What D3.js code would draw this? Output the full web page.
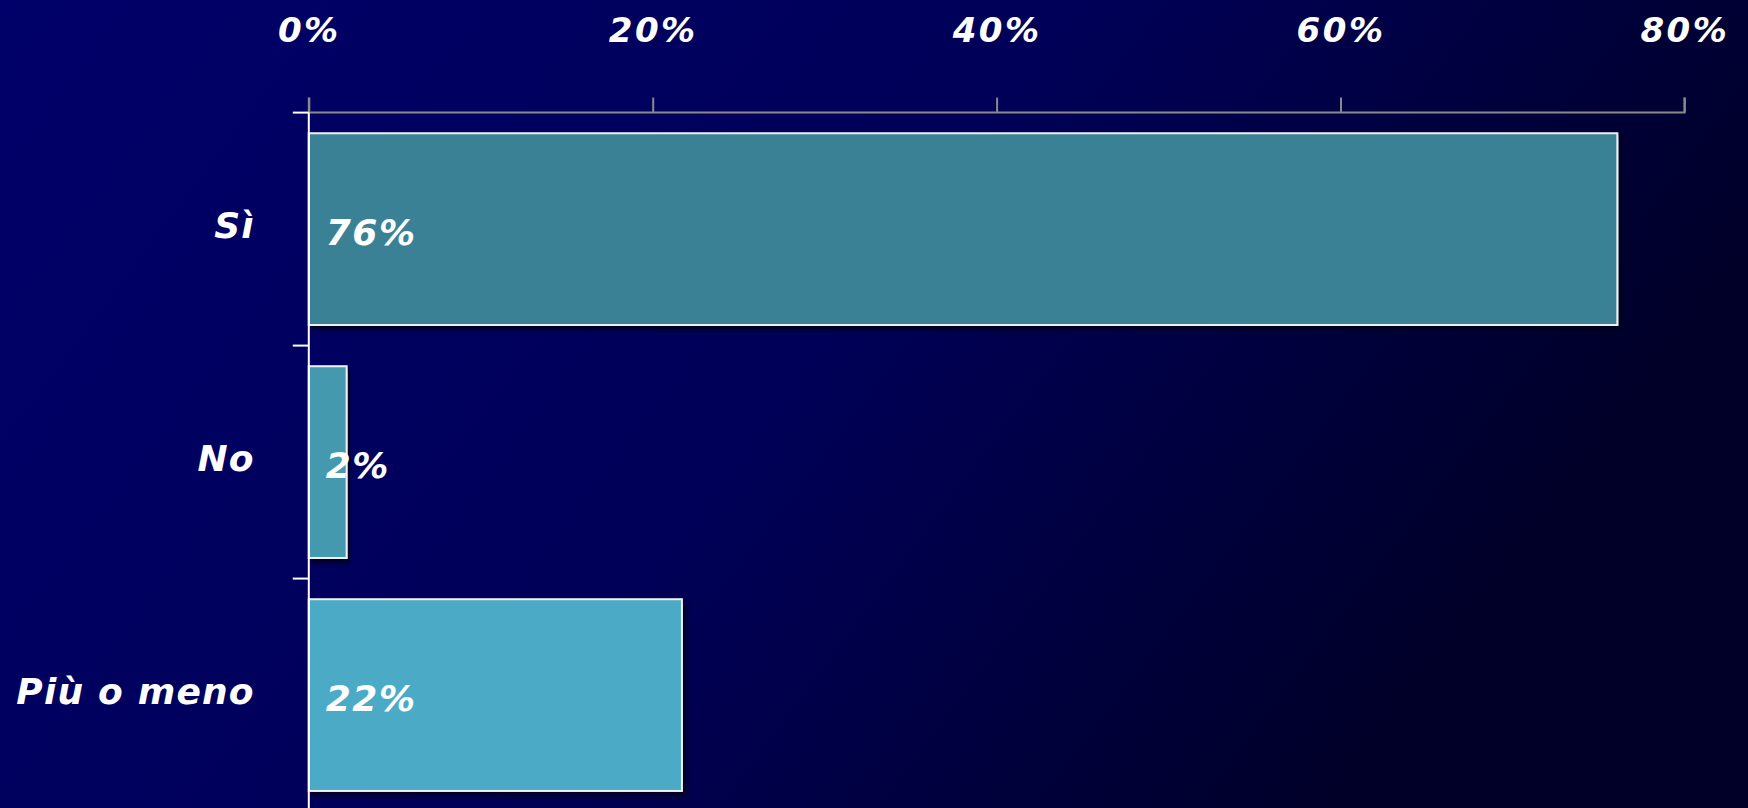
<!DOCTYPE html>
<html><head><meta charset="utf-8">
<script src="https://cdn.jsdelivr.net/npm/d3@7"></script>
<style>
html,body{margin:0;padding:0;background:#000060;overflow:hidden}
text{font-family:"DejaVu Sans",sans-serif;font-style:oblique;font-weight:700;fill:#fff;letter-spacing:2.5px}
</style></head><body>
<script>
const categories = ["Sì", "No", "Più o meno"];
const values = [76.1, 2.2, 21.7];
const valueLabels = ["76%", "2%", "22%"];
const barColors = ["#3A8196", "#4599AF", "#4CABC6"];
const xTicks = [0, 20, 40, 60, 80];

const W = 1748, H = 808;
const svg = d3.select("body").append("svg").attr("width", W).attr("height", H);
const defs = svg.append("defs");
const grad = defs.append("linearGradient").attr("id","bg").attr("x1","0").attr("y1","0").attr("x2","1").attr("y2","0.35");
grad.append("stop").attr("offset","0").attr("stop-color","#00006A");
grad.append("stop").attr("offset","0.55").attr("stop-color","#000058");
grad.append("stop").attr("offset","1").attr("stop-color","#000028");
svg.append("rect").attr("width",W).attr("height",H).attr("fill","url(#bg)");
const f = defs.append("filter").attr("id","sh").attr("x","-5%").attr("y","-5%").attr("width","115%").attr("height","120%");
f.append("feDropShadow").attr("dx",3).attr("dy",4).attr("stdDeviation",2).attr("flood-color","#000018").attr("flood-opacity",0.8);

const x0 = 308.8, axisY = 112.6;
const x = d3.scaleLinear().domain([0, 80]).range([x0, 1684.4]);
const y = d3.scaleBand().domain(categories).range([axisY, axisY + 699]).paddingInner(0.177).paddingOuter(0.0886);

// x axis (top)
const xa = svg.append("g").attr("transform", `translate(0,${axisY})`)
  .call(d3.axisTop(x).tickValues(xTicks).tickSize(15).tickPadding(56).tickFormat(d => d + "%"));
xa.select(".domain").attr("stroke","#8a8a8a").attr("stroke-width",2).attr("d", `M${x0},-15V0H${x(80)}V-15`);
xa.selectAll(".tick line").attr("stroke","#8a8a8a").attr("stroke-width",2);
xa.selectAll(".tick text").attr("fill","#fff").style("font-size","34px").attr("font-family",null);

// bars
svg.append("g").selectAll("rect").data(categories).join("rect")
  .attr("x", x(0)).attr("y", d => y(d))
  .attr("width", (d,i) => x(values[i]) - x(0)).attr("height", y.bandwidth())
  .attr("fill", (d,i) => barColors[i]).attr("stroke","#f0f0f0").attr("stroke-width",2)
  .attr("filter","url(#sh)");

// y axis
const step = y.step();
const ya = svg.append("g");
ya.append("line").attr("x1", x0).attr("x2", x0).attr("y1", axisY).attr("y2", H).attr("stroke","#fff").attr("stroke-width",2);
ya.selectAll("line.t").data(categories).join("line").attr("class","t")
  .attr("x1", x0 - 16).attr("x2", x0)
  .attr("y1", d => y(d) - y.paddingOuter() * step).attr("y2", d => y(d) - y.paddingOuter() * step)
  .attr("stroke","#fff").attr("stroke-width",2);
const yl = svg.append("g").attr("transform", `translate(${x0},0)`)
  .call(d3.axisLeft(y).tickSize(0).tickPadding(54));
yl.select(".domain").remove();
yl.selectAll(".tick text").attr("fill","#fff").style("font-size","36px").style("letter-spacing","1.2px").attr("font-family",null).attr("dy","0.25em");

// value labels
svg.append("g").selectAll("text").data(categories).join("text")
  .attr("x", x(0) + 17).attr("y", d => y(d) + y.bandwidth()/2 + 3)
  .attr("dominant-baseline","central")
  .style("font-size","36px").style("letter-spacing","1.5px")
  .text((d,i) => valueLabels[i]);
</script>
</body></html>
